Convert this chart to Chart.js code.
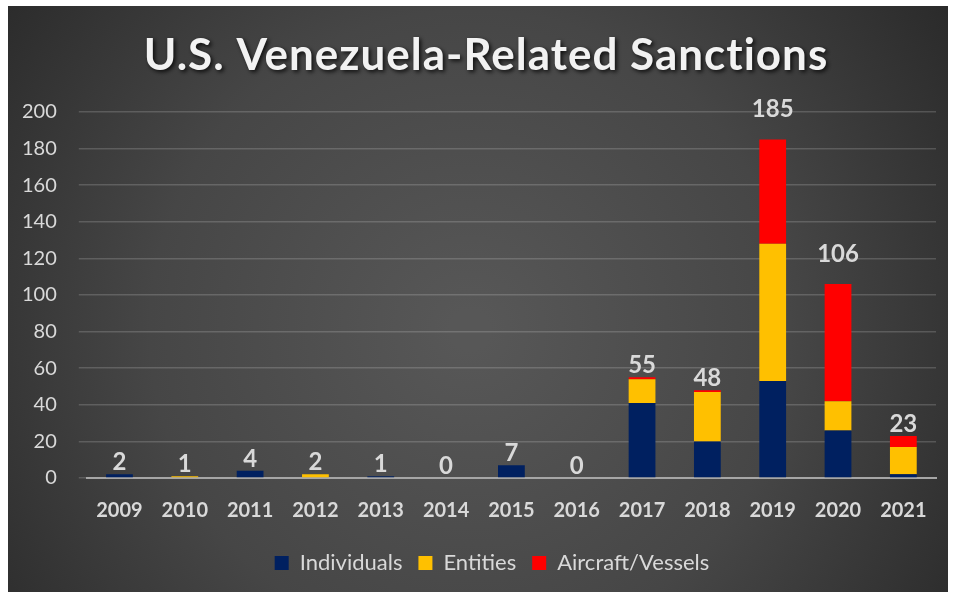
<!DOCTYPE html>
<html>
<head>
<meta charset="utf-8">
<script src="https://cdn.jsdelivr.net/npm/chart.js@4"></script>
<style>
  html, body { margin: 0; padding: 0; background: #fff; }
  #wrap { width: 954px; height: 597px; }
</style>
</head>
<body>
<div id="wrap"><canvas id="myChart" width="954" height="597"></canvas></div>
<script>
const years = ['2009','2010','2011','2012','2013','2014','2015','2016','2017','2018','2019','2020','2021'];
const individuals = [2, 0, 4, 0, 1, 0, 7, 0, 41, 20, 53, 26, 2];
const entities    = [0, 1, 0, 2, 0, 0, 0, 0, 13, 27, 75, 16, 15];
const aircraft    = [0, 0, 0, 0, 0, 0, 0, 0, 1, 1, 57, 64, 6];
const yTicks = [0, 20, 40, 60, 80, 100, 120, 140, 160, 180, 200];

const ctx = document.getElementById('myChart');
const fontName = 'Lato, "Open Sans", sans-serif';

// dark radial background with white frame + title
const bgPlugin = {
    id: 'bg',
    afterLayout(chart) {
        // legend sits a bit right of centre in the original
        chart.legend.left += 24;
        chart.legend.right += 24;
    },
    beforeDraw(chart) {
        const c = chart.ctx;
        c.save();
        c.fillStyle = '#ffffff';
        c.fillRect(0, 0, chart.width, chart.height);
        const g = c.createRadialGradient(470, 330, 20, 470, 330, 620);
        g.addColorStop(0, '#575757');
        g.addColorStop(0.5, '#464646');
        g.addColorStop(1, '#262626');
        c.fillStyle = g;
        c.fillRect(8, 6, 940, 586);
        c.font = 'bold 44px ' + fontName;
        c.letterSpacing = '1px';
        c.textAlign = 'center';
        c.textBaseline = 'middle';
        c.shadowColor = 'rgba(0,0,0,0.8)';
        c.shadowBlur = 4;
        c.shadowOffsetX = 2;
        c.shadowOffsetY = 2;
        c.fillStyle = '#f2f2f2';
        c.fillText('U.S. Venezuela-Related Sanctions', 486, 56);
        c.restore();
    }
};

// totals above stacks (the two tallest labels sit higher, as in the original)
const totalsPlugin = {
    id: 'totals',
    afterDatasetsDraw(chart) {
        const c = chart.ctx;
        const xs = chart.scales.x, ys = chart.scales.y;
        c.save();
        c.font = 'bold 24px ' + fontName;
        c.fillStyle = '#d9d9d9';
        c.textAlign = 'center';
        c.textBaseline = 'alphabetic';
        years.forEach((y, i) => {
            const total = individuals[i] + entities[i] + aircraft[i];
            const lift = total > 100 ? 22 : 4;
            c.fillText(String(total), xs.getPixelForValue(i), ys.getPixelForValue(total) - lift);
        });
        c.restore();
    }
};

new Chart(ctx, {
    type: 'bar',
    data: {
        labels: years,
        datasets: [
            { label: 'Individuals', data: individuals, backgroundColor: '#002060' },
            { label: 'Entities', data: entities, backgroundColor: '#FFC000' },
            { label: 'Aircraft/Vessels', data: aircraft, backgroundColor: '#FF0000' }
        ]
    },
    options: {
        responsive: false,
        animation: false,
        layout: { padding: { top: 112, left: 0, right: 18, bottom: 13 } },
        datasets: { bar: { barPercentage: 0.41, categoryPercentage: 1 } },
        plugins: {
            legend: {
                position: 'bottom',
                labels: {
                    color: '#d9d9d9',
                    boxWidth: 14,
                    boxHeight: 14,
                    padding: 16,
                    font: { family: fontName, size: 22 }
                }
            },
            tooltip: { enabled: false }
        },
        scales: {
            x: {
                stacked: true,
                grid: { display: false },
                border: { color: '#a6a6a6', width: 2 },
                ticks: { color: '#d9d9d9', font: { family: fontName, size: 20, weight: 'bold' }, padding: 13 }
            },
            y: {
                stacked: true,
                min: 0,
                max: 200,
                afterBuildTicks(scale) { scale.ticks = yTicks.map(v => ({ value: v })); },
                grid: { color: 'rgba(255,255,255,0.17)', lineWidth: 1.5 },
                border: { display: false },
                ticks: { color: '#d9d9d9', font: { family: fontName, size: 20 }, padding: 22 }
            }
        }
    },
    plugins: [bgPlugin, totalsPlugin]
});
</script>
</body>
</html>
